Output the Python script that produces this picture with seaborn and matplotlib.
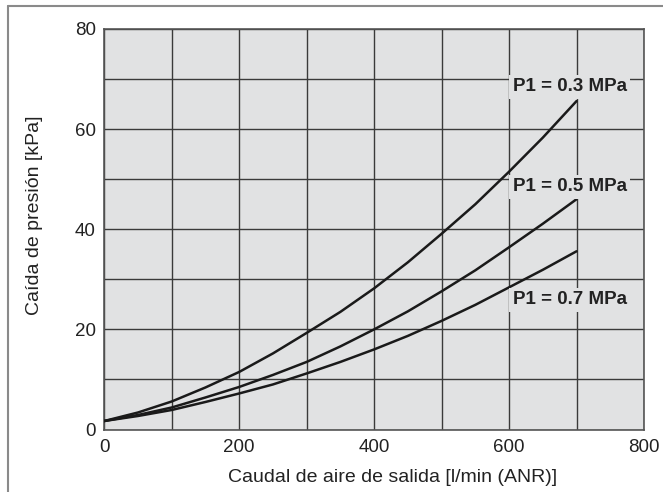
import matplotlib
matplotlib.use("Agg")
import matplotlib.pyplot as plt
import numpy as np
import pandas as pd
import seaborn as sns
from matplotlib.lines import Line2D

# Outlet air flow [l/min (ANR)]
flow = [0, 50, 100, 150, 200, 250, 300, 350, 400, 450, 500, 550, 600, 650, 700]
# Pressure drop [kPa] for each inlet pressure
drop_03 = [1.7, 3.4, 5.6, 8.4, 11.5, 15.2, 19.3, 23.5, 28.2, 33.4, 39.1, 45.0, 51.5, 58.3, 65.6]
drop_05 = [1.7, 2.9, 4.4, 6.4, 8.5, 10.9, 13.5, 16.6, 20.0, 23.6, 27.6, 31.8, 36.4, 41.1, 46.0]
drop_07 = [1.7, 2.7, 3.9, 5.5, 7.2, 9.0, 11.2, 13.5, 16.0, 18.7, 21.7, 24.9, 28.4, 31.9, 35.6]
series_names = ["P1 = 0.3 MPa", "P1 = 0.5 MPa", "P1 = 0.7 MPa"]
label_pos = [(690, 68.5), (690, 48.5), (690, 25.9)]

x_ticks = [0, 200, 400, 600, 800]
y_ticks = [0, 20, 40, 60, 80]

df = pd.concat([
    pd.DataFrame({"flow": flow, "drop": d, "serie": n})
    for d, n in zip([drop_03, drop_05, drop_07], series_names)
])

sns.set_theme(style="white")
plt.rcParams["font.family"] = ["Liberation Sans", "DejaVu Sans"]

bg = "#e1e2e3"
ink = "#222222"
fig = plt.figure(figsize=(6.63, 4.92), dpi=100)
ax = fig.add_axes([104.3 / 663, 62.5 / 492, 539.7 / 663, 400.5 / 492])
ax.set_facecolor(bg)

sns.lineplot(data=df, x="flow", y="drop", units="serie", estimator=None,
             color="#1a1a1a", linewidth=1.8, ax=ax, legend=False, zorder=3)

ax.set_xlim(0, 800)
ax.set_ylim(0, 80)
ax.set_xticks(x_ticks)
ax.set_yticks(y_ticks)
ax.set_xticks(np.arange(0, 801, 100), minor=True)
ax.set_yticks(np.arange(0, 81, 10), minor=True)
ax.grid(which="both", color="#3a3a3a", linewidth=1.0)
ax.set_axisbelow(True)
for s in ax.spines.values():
    s.set_color("#555555")
    s.set_linewidth(1.2)

ax.tick_params(axis="both", which="both", length=0, labelsize=13.5,
               colors=ink)
ax.tick_params(axis="x", pad=7)
ax.tick_params(axis="y", pad=6)

ax.set_xlabel("Caudal de aire de salida [l/min (ANR)]", fontsize=14, color=ink)
ax.xaxis.label.set_va("center")
ax.xaxis.set_label_coords(0.534, -0.121)
ax.set_ylabel("Caída de presión [kPa]", fontsize=14, color=ink)
ax.yaxis.label.set_va("center")
ax.yaxis.set_label_coords(-0.129, 0.536)

for name, (lx, ly) in zip(series_names, label_pos):
    ax.text(lx, ly, name, ha="center", va="center", fontsize=13.5,
            fontweight="bold", color=ink, zorder=4,
            bbox=dict(facecolor=bg, edgecolor="none", pad=2.5))

# page frame along top and left
fig.add_artist(Line2D([8 / 663, 8 / 663], [0, 1 - 6 / 492],
                      transform=fig.transFigure, color="#8a8a8a", linewidth=1.5))
fig.add_artist(Line2D([8 / 663, 1], [1 - 6 / 492, 1 - 6 / 492],
                      transform=fig.transFigure, color="#8a8a8a", linewidth=1.5))

fig.savefig("out.png", dpi=100)
